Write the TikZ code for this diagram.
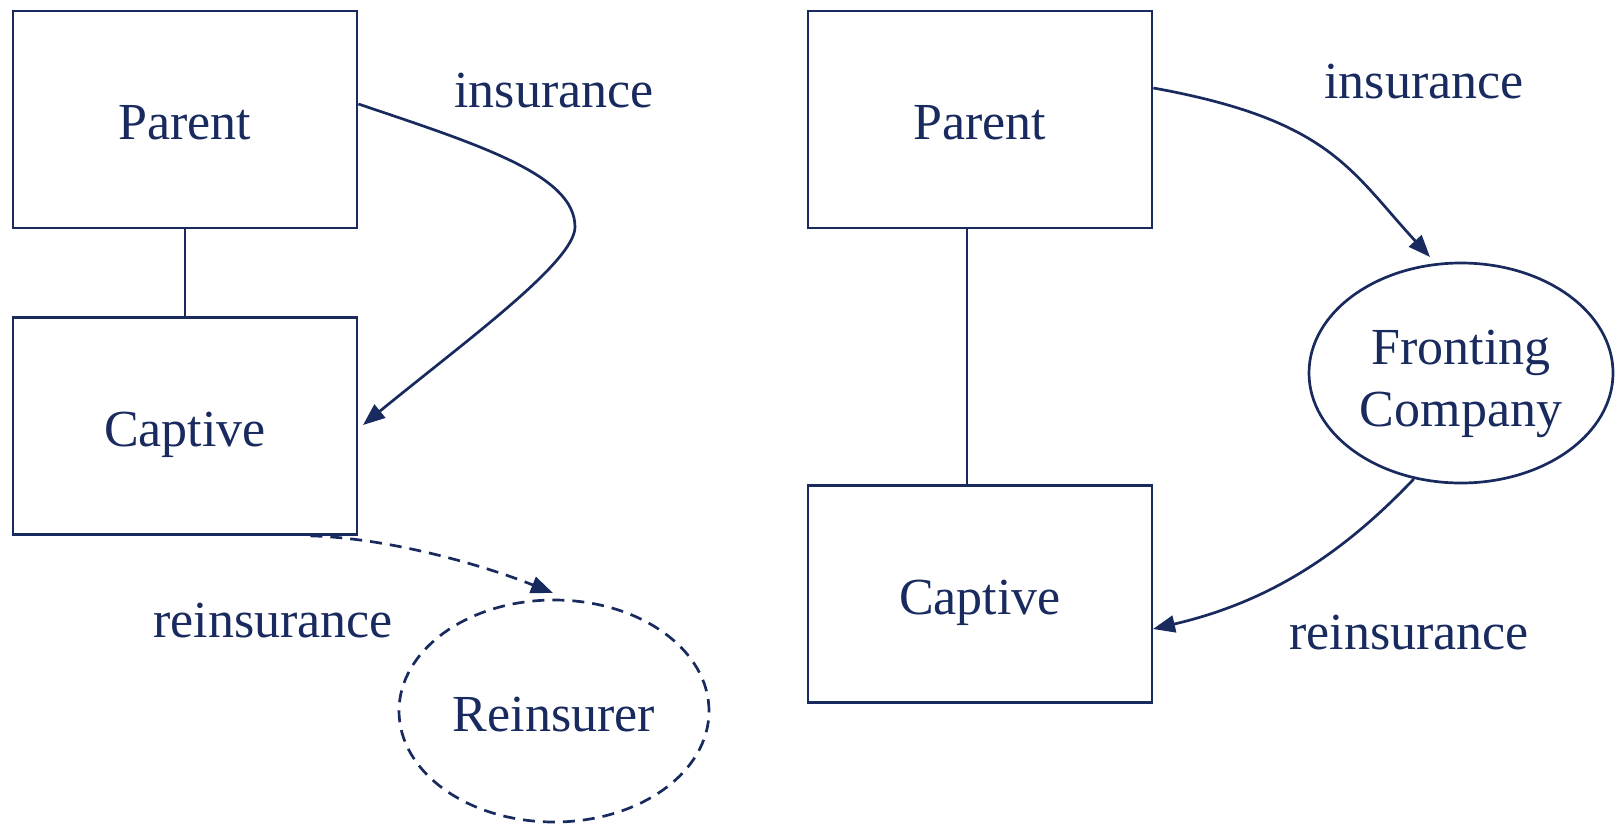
\documentclass[tikz,border=0pt]{standalone}
\usepackage{fontspec}
\setmainfont{Liberation Serif}
\usetikzlibrary{arrows.meta,shapes.geometric}
\definecolor{ink}{RGB}{25,42,94}
\begin{document}
\begin{tikzpicture}[x=1pt,y=-1pt,
  every node/.style={text=ink,font=\fontsize{52}{62}\selectfont},
  box/.style={draw=ink,line width=2.7pt,rectangle,minimum width=344pt,minimum height=217pt,inner sep=0pt,text height=40pt,text depth=0pt},
  oval/.style={draw=ink,line width=2.7pt,ellipse,minimum width=304pt,minimum height=220pt,inner sep=0pt,align=center},
  link/.style={draw=ink,line width=2.7pt},
  flow/.style={link,-{Triangle[length=22pt,width=17pt]}},
  lbl/.style={inner sep=0pt}]
\useasboundingbox (0,0) rectangle (1616,825);

% left: parent insures captive, captive reinsures
\node[box] (lpar) at (185,119.5) {Parent};
\node[box] (lcap) at (185,426) {Captive};
\node[oval,dashed,dash pattern=on 12pt off 8pt,minimum width=310pt,minimum height=222pt,text height=40pt,text depth=0pt] (rein) at (554,711) {Reinsurer};
\draw[link] (lpar.south) -- (lcap.north);
\node[lbl] (lins) at (554,91) {insurance};
\node[lbl] (lre) at (273,621) {reinsurance};
\coordinate (lbend) at (575,227);
\coordinate (lcapin) at (363,425);
\coordinate (reinin) at (553,593);
\draw[link] ([yshift=15.5pt]lpar.east) .. controls (480,145) and (575,175) .. (lbend);
\draw[flow] (lbend) .. controls (575,262) and (463,343) .. (lcapin);
\draw[flow,dashed,dash pattern=on 12pt off 8pt] ([xshift=-48pt]lcap.south east) .. controls (389,538) and (483,565) .. (reinin);

% right: fronting company between parent and captive
\node[box] (rpar) at (980,119.5) {Parent};
\node[box] (rcap) at (980,594) {Captive};
\node[oval,text height=107pt,text depth=0pt] (front) at (1461,373) {Fronting\\Company};
\draw[link] ([xshift=-13pt]rpar.south) -- ([xshift=-13pt]rcap.north);
\node[lbl] (rins) at (1424,82) {insurance};
\node[lbl] (rre) at (1409,633) {reinsurance};
\coordinate (frontin) at (1430,257);
\coordinate (rcapin) at (1153,629);
\draw[flow] ([yshift=31.5pt]rpar.east) .. controls (1330,120) and (1350,170) .. (frontin);
\draw[flow] (front.246) .. controls (1335,562) and (1260,604) .. (rcapin);
\end{tikzpicture}
\end{document}
